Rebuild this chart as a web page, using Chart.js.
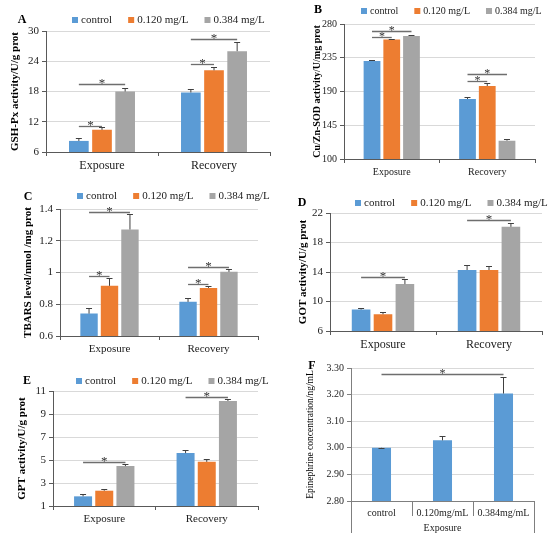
<!DOCTYPE html>
<html>
<head>
<meta charset="utf-8">
<script src="https://cdn.jsdelivr.net/npm/chart.js@4.4.0/dist/chart.umd.min.js"></script>
<style>
  html, body { margin: 0; padding: 0; background: #fff; }
  #wrap { position: relative; width: 550px; height: 542px; overflow: hidden; }
  .panel { position: absolute; }
</style>
</head>
<body>
<div id="wrap">
  <div class="panel" style="left:0;top:0;width:275px;height:180px"><canvas id="chartA"></canvas></div>
  <div class="panel" style="left:275px;top:0;width:275px;height:180px"><canvas id="chartB"></canvas></div>
  <div class="panel" style="left:0;top:180px;width:275px;height:175px"><canvas id="chartC"></canvas></div>
  <div class="panel" style="left:275px;top:180px;width:275px;height:175px"><canvas id="chartD"></canvas></div>
  <div class="panel" style="left:0;top:355px;width:275px;height:187px"><canvas id="chartE"></canvas></div>
  <div class="panel" style="left:275px;top:355px;width:275px;height:187px"><canvas id="chartF"></canvas></div>
</div>
<script>
// ── Shared categories / series ──
const groups      = ['Exposure', 'Recovery'];
const seriesNames = ['control', '0.120 mg/L', '0.384 mg/L'];
const seriesColors = ['#5b9bd5', '#ed7d31', '#a5a5a5'];

// ── A: GSH-Px ──
const gshMean = [[8.2, 17.8], [10.4, 22.2], [18.0, 26.0]];
const gshErr  = [[0.5, 0.6], [0.5, 0.7], [0.6, 1.8]];
const gshTicks = ['6', '12', '18', '24', '30'];
// [fromSeries, fromGroup, toSeries, toGroup, lineValue]
const gshSig = [[0, 0, 1, 0, 11.2], [0, 0, 2, 0, 19.4], [0, 1, 1, 1, 23.5], [0, 1, 2, 1, 28.5]];

// ── B: Cu/Zn-SOD ──
const sodMean = [[230.7, 180.0], [259.5, 197.3], [264.0, 124.4]];
const sodErr  = [[1.5, 3.0], [1.0, 4.4], [1.2, 1.8]];
const sodTicks = ['100', '145', '190', '235', '280'];
const sodSig = [[0, 0, 1, 0, 262.7], [0, 0, 2, 0, 271], [0, 1, 1, 1, 204], [0, 1, 2, 1, 214]];

// ── C: TBARS ──
const tbarsMean = [[0.741, 0.815], [0.916, 0.903], [1.271, 1.004]];
const tbarsErr  = [[0.034, 0.025], [0.052, 0.013], [0.097, 0.019]];
const tbarsTicks = ['0.6', '0.8', '1', '1.2', '1.4'];
const tbarsSig = [[0, 0, 1, 0, 0.977], [0, 0, 2, 0, 1.381], [0, 1, 1, 1, 0.926], [0, 1, 2, 1, 1.034]];

// ── D: GOT ──
const gotMean = [[8.91, 14.27], [8.27, 14.27], [12.36, 20.13]];
const gotErr  = [[0.23, 0.63], [0.28, 0.55], [0.64, 0.51]];
const gotTicks = ['6', '10', '14', '18', '22'];
const gotSig = [[0, 0, 2, 0, 13.27], [0, 1, 2, 1, 21.0]];

// ── E: GPT ──
const gptMean = [[1.84, 5.60], [2.33, 4.84], [4.47, 10.13]];
const gptErr  = [[0.17, 0.26], [0.12, 0.24], [0.17, 0.21]];
const gptTicks = ['1', '3', '5', '7', '9', '11'];
const gptSig = [[0, 0, 2, 0, 4.84], [0, 1, 2, 1, 10.48]];

// ── F: Epinephrine ──
const epiLabels = ['control', '0.120mg/mL', '0.384mg/mL'];
const epiMean = [3.000, 3.028, 3.204];
const epiErr  = [0.001, 0.015, 0.063];
const epiTicks = ['2.80', '2.90', '3.00', '3.10', '3.20', '3.30'];
const epiSig = [[0, 0, 0, 2, 3.276]];

const SERIF = '"Liberation Serif", "Times New Roman", serif';
const INK = '#222';

// Error bars, significance lines, panel letter, legend, multi-level axis
const extrasPlugin = {
  id: 'extras',
  afterDatasetsDraw(chart, args, opts) {
    const ctx = chart.ctx;
    const y = chart.scales.y;
    ctx.save();

    // error bars (upper only)
    ctx.strokeStyle = '#404040';
    ctx.lineWidth = 1;
    chart.data.datasets.forEach((ds, di) => {
      chart.getDatasetMeta(di).data.forEach((bar, i) => {
        const top = Math.round(y.getPixelForValue(ds.data[i] + ds.errors[i])) + 0.5;
        ctx.beginPath();
        ctx.moveTo(bar.x, bar.y);
        ctx.lineTo(bar.x, top);
        ctx.moveTo(bar.x - 3, top);
        ctx.lineTo(bar.x + 3, top);
        ctx.stroke();
      });
    });

    // significance lines
    ctx.strokeStyle = '#6e6e6e';
    ctx.lineWidth = 1.3;
    ctx.fillStyle = '#333';
    ctx.font = `${opts.fs + 2}px ${SERIF}`;
    ctx.textAlign = 'center';
    ctx.textBaseline = 'middle';
    (opts.sig || []).forEach(([d1, i1, d2, i2, v]) => {
      const x1 = chart.getDatasetMeta(d1).data[i1].x;
      const x2 = chart.getDatasetMeta(d2).data[i2].x;
      const py = Math.round(y.getPixelForValue(v)) + 0.5;
      ctx.beginPath();
      ctx.moveTo(x1, py);
      ctx.lineTo(x2, py);
      ctx.stroke();
      ctx.fillText('*', (x1 + x2) / 2, py - 1);
    });
    ctx.restore();
  },
  afterDraw(chart, args, opts) {
    const ctx = chart.ctx;
    ctx.save();

    // panel letter
    ctx.fillStyle = '#000';
    ctx.font = `bold 12px ${SERIF}`;
    ctx.textAlign = 'center';
    ctx.textBaseline = 'middle';
    ctx.fillText(opts.letter.text, opts.letter.x, opts.letter.y);

    // legend
    if (opts.legend) {
      const s = 6;
      let x = opts.legend.x;
      ctx.font = `${opts.legend.fs}px ${SERIF}`;
      ctx.textAlign = 'left';
      chart.data.datasets.forEach(ds => {
        ctx.fillStyle = ds.backgroundColor;
        ctx.fillRect(x, opts.legend.y - s / 2, s, s);
        ctx.fillStyle = INK;
        ctx.fillText(ds.label, x + 9, opts.legend.y + 0.5);
        x += 9 + ctx.measureText(ds.label).width + 16;
      });
    }

    // multi-level category axis dividers
    if (opts.dividers) {
      const xs = chart.scales.x;
      const n = chart.data.labels.length;
      const half = (xs.getPixelForValue(1) - xs.getPixelForValue(0)) / 2;
      const b = chart.chartArea.bottom;
      ctx.strokeStyle = '#7f7f7f';
      ctx.lineWidth = 1;
      for (let i = 0; i <= n; i++) {
        const px = Math.round(xs.getPixelForValue(0) - half + i * half * 2) + 0.5;
        const len = (i === 0 || i === n) ? 32 : 15;
        ctx.beginPath();
        ctx.moveTo(px, b);
        ctx.lineTo(px, b + len);
        ctx.stroke();
      }
    }
    ctx.restore();
  }
};

function makePanel(id, cfg) {
  const titleSize = cfg.titleFs || cfg.fs;
  return new Chart(document.getElementById(id), {
    type: 'bar',
    data: { labels: cfg.labels, datasets: cfg.datasets },
    options: {
      responsive: true,
      maintainAspectRatio: false,
      animation: false,
      layout: { padding: { top: cfg.padTop, right: cfg.padRight, left: 0, bottom: 0 } },
      datasets: { bar: { categoryPercentage: cfg.catPct, barPercentage: cfg.barPct } },
      plugins: {
        legend: { display: false },
        tooltip: { enabled: false },
        extras: { fs: cfg.fs, sig: cfg.sig, letter: cfg.letter, legend: cfg.legend, dividers: cfg.dividers }
      },
      scales: {
        x: {
          afterFit: s => { s.height = cfg.xHeight; },
          border: { color: cfg.axisColor || '#595959' },
          grid: cfg.dividers
            ? { display: false, drawTicks: false }
            : { offset: true, drawOnChartArea: false, tickLength: 4, color: '#595959' },
          ticks: { color: INK, padding: cfg.dividers ? 6 : 3, maxRotation: 0, font: { family: SERIF, size: cfg.xFs || cfg.fs } },
          title: cfg.xTitle
            ? { display: true, text: cfg.xTitle, color: INK, padding: { top: 0, bottom: 8 }, font: { family: SERIF, size: cfg.xFs || cfg.fs } }
            : { display: false }
        },
        y: {
          min: cfg.yMin, max: cfg.yMax,
          afterFit: s => { s.width = cfg.yWidth; },
          border: { color: cfg.axisColor || '#595959' },
          grid: { color: '#d9d9d9', tickColor: cfg.axisColor || '#595959', tickLength: 4 },
          ticks: {
            stepSize: cfg.step, padding: 3, color: INK,
            font: { family: SERIF, size: cfg.fs },
            callback: (v, i) => cfg.ticks[i] ?? v
          },
          title: {
            display: true, text: cfg.yTitle, color: '#000',
            padding: { top: cfg.titleOffset - titleSize * 0.6, bottom: 0 },
            font: { family: SERIF, size: titleSize, weight: cfg.titleWeight || 'bold' }
          }
        }
      }
    },
    plugins: [extrasPlugin]
  });
}

function groupedSets(means, errs) {
  return seriesNames.map((name, k) => ({
    label: name,
    data: means[k],
    errors: errs[k],
    backgroundColor: seriesColors[k]
  }));
}

const groupedDefaults = { labels: groups, catPct: 0.62, barPct: 0.85 };

makePanel('chartA', Object.assign({}, groupedDefaults, {
  datasets: groupedSets(gshMean, gshErr), sig: gshSig,
  yMin: 6, yMax: 30, step: 6, ticks: gshTicks,
  yTitle: 'GSH-Px activity/U/g prot', fs: 11, xFs: 12, titleOffset: 15,
  yWidth: 46, padTop: 31, padRight: 5, xHeight: 28,
  letter: { text: 'A', x: 22, y: 20 }, legend: { x: 72, y: 20, fs: 11 }
}));

makePanel('chartB', Object.assign({}, groupedDefaults, {
  datasets: groupedSets(sodMean, sodErr), sig: sodSig,
  yMin: 100, yMax: 280, step: 45, ticks: sodTicks,
  yTitle: 'Cu/Zn-SOD activity/U/mg prot', fs: 10, titleOffset: 42,
  yWidth: 69, padTop: 24, padRight: 15, xHeight: 21,
  letter: { text: 'B', x: 43, y: 10 }, legend: { x: 86, y: 11, fs: 10 }
}));

makePanel('chartC', Object.assign({}, groupedDefaults, {
  datasets: groupedSets(tbarsMean, tbarsErr), sig: tbarsSig,
  yMin: 0.6, yMax: 1.4, step: 0.2, ticks: tbarsTicks,
  yTitle: 'TBARS level/nmol /mg prot', fs: 11, titleOffset: 28,
  yWidth: 60, padTop: 29, padRight: 17, xHeight: 19,
  letter: { text: 'C', x: 28, y: 17 }, legend: { x: 77, y: 16, fs: 11 }
}));

makePanel('chartD', Object.assign({}, groupedDefaults, {
  datasets: groupedSets(gotMean, gotErr), sig: gotSig,
  yMin: 6, yMax: 22, step: 4, ticks: gotTicks,
  yTitle: 'GOT activity/U/g prot', fs: 11, xFs: 12, titleOffset: 28,
  yWidth: 55, padTop: 33, padRight: 8, xHeight: 24,
  letter: { text: 'D', x: 27, y: 23 }, legend: { x: 80, y: 23, fs: 11 }
}));

makePanel('chartE', Object.assign({}, groupedDefaults, {
  datasets: groupedSets(gptMean, gptErr), sig: gptSig,
  yMin: 1, yMax: 11, step: 2, ticks: gptTicks,
  yTitle: 'GPT activity/U/g prot', fs: 11, titleOffset: 22,
  yWidth: 53, padTop: 36, padRight: 17, xHeight: 36,
  letter: { text: 'E', x: 27, y: 26 }, legend: { x: 76, y: 26, fs: 11 }
}));

makePanel('chartF', {
  labels: epiLabels, catPct: 0.8, barPct: 0.39,
  datasets: [{ label: 'Exposure', data: epiMean, errors: epiErr, backgroundColor: seriesColors[0] }],
  sig: epiSig, xTitle: 'Exposure', dividers: true, axisColor: '#7f7f7f',
  yMin: 2.8, yMax: 3.3, step: 0.1, ticks: epiTicks,
  yTitle: 'Epinephrine concentration/ng/mL', titleWeight: 'normal', fs: 10, titleFs: 9.5, titleOffset: 35,
  yWidth: 76, padTop: 13, padRight: 16, xHeight: 41,
  letter: { text: 'F', x: 37, y: 11 }
});
</script>
</body>
</html>
